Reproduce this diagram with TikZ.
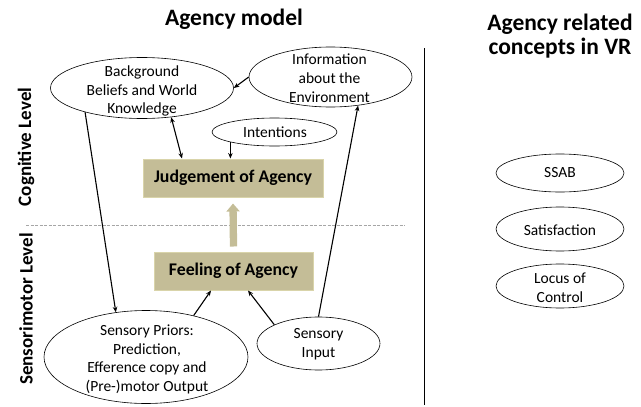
\documentclass[tikz,border=0pt]{standalone}
\usepackage{fontspec}
\setmainfont{Carlito}
\usetikzlibrary{arrows.meta,shapes.geometric}
\definecolor{khaki}{HTML}{C4BD97}
\definecolor{khakiedge}{HTML}{D9D4AA}
\definecolor{dashgrey}{HTML}{A6A6A6}
\begin{document}
\begin{tikzpicture}[x=1pt,y=-1pt,
  ell/.style={draw=black,line width=0.6pt,ellipse,inner sep=0pt},
  body/.style={font=\fontsize{15.5}{18.8}\selectfont,align=center,text=black,inner sep=0pt},
  agbox/.style={draw=khakiedge,line width=1pt,fill=khaki,inner sep=0pt,
    font=\bfseries\fontsize{17.8}{21}\selectfont},
  conn/.style={line width=1.1pt,-{Stealth[length=5.5pt,width=4.5pt]}},
  dconn/.style={line width=1.1pt,{Stealth[length=5.5pt,width=4.5pt]}-{Stealth[length=5.5pt,width=4.5pt]}},
  title/.style={font=\bfseries\fontsize{23.5}{24}\selectfont,align=center,inner sep=0pt},
  side/.style={font=\bfseries\fontsize{19}{21}\selectfont,rotate=90,inner sep=0pt}]
\useasboundingbox (0,0) rectangle (641,407);

% titles
\node[title,anchor=base] (t1) at (234,25.5) {Agency model};
\node[title] (t2) at (560,36) {Agency related\\concepts in VR};

% side labels
\node[side] (cog) at (26,147) {Cognitive Level};
\node[side] (sen) at (26,309) {Sensorimotor Level};

% separators
\coordinate (dl) at (26,225);
\coordinate (dr) at (405,225);
\draw[dashgrey,line width=0.7pt,dash pattern=on 3pt off 1.5pt] (dl) -- (dr);
\coordinate (vt) at (424.5,48);
\coordinate (vb) at (424.5,405);
\draw[line width=1.3pt] (vt) -- (vb);

% ellipses, left
\node[ell,minimum width=183pt,minimum height=61pt] (bg) at (142,88) {};
\node[body] (bgt) at (142,91) {Background\\Beliefs and World\\Knowledge};
\node[ell,minimum width=163pt,minimum height=60pt] (info) at (330.5,77) {};
\node[body] (infot) at (329.5,78) {Information\\about the\\Environment};
\node[ell,minimum width=125pt,minimum height=28pt] (int) at (274.5,132) {};
\node[body] (intt) at (275,132) {Intentions};
\node[ell,minimum width=204pt,minimum height=93pt] (sp) at (146,357) {};
\node[body] (spt) at (147,359.5) {Sensory Priors:\\Prediction,\\Efference copy and\\(Pre-)motor Output};
\node[ell,minimum width=123pt,minimum height=53pt] (si) at (318.5,343.5) {};
\node[body] (sit) at (318.5,344) {Sensory\\Input};

% boxes
\node[agbox,minimum width=180pt,minimum height=38pt] (jud) at (233,178) {Judgement of Agency};
\node[agbox,minimum width=159pt,minimum height=38pt] (feel) at (233.5,271) {Feeling of Agency};

% big arrow
\draw[khaki,line width=7.3pt,-{Triangle[width=13pt,length=8pt]}]
  ([yshift=5pt]feel.north) -- ([yshift=-6pt]jud.south);

% connectors
\draw[conn] (info.west) -- (bg.east);
\draw[dconn] (bg.315) -- ([xshift=-51pt]jud.north);
\draw[conn] (int.193) -- (int.193 |- jud.north);
\draw[conn] (bg.203) -- (sp.124);
\draw[conn] (si.north) -- (info.314);
\draw[conn] (sp.41) -- ([xshift=-22.5pt]feel.south);
\draw[conn] (si.157) -- ([xshift=14.5pt]feel.south);

% right ellipses
\node[ell,minimum width=128pt,minimum height=38pt] (ssab) at (560,173) {};
\node[body] (ssabt) at (560,173) {SSAB};
\node[ell,minimum width=128pt,minimum height=44pt] (sat) at (560,229) {};
\node[body] (satt) at (560,230) {Satisfaction};
\node[ell,minimum width=128pt,minimum height=44pt] (loc) at (560,286) {};
\node[body] (loct) at (560,288) {Locus of\\Control};
\end{tikzpicture}
\end{document}
